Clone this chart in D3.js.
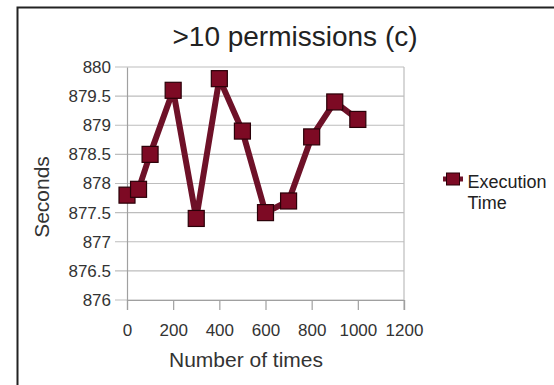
<!DOCTYPE html>
<html>
<head>
<meta charset="utf-8">
<script src="https://cdn.jsdelivr.net/npm/d3@7"></script>
<style>
  html, body { margin: 0; padding: 0; background: #fff; }
  svg { display: block; font-family: "Liberation Sans", Arial, sans-serif; }
</style>
</head>
<body>
<script>
const runs = [0, 50, 100, 200, 300, 400, 500, 600, 700, 800, 900, 1000];
const seconds = [877.8, 877.9, 878.5, 879.6, 877.4, 879.8, 878.9, 877.5, 877.7, 878.8, 879.4, 879.1];
const xTicks = [0, 200, 400, 600, 800, 1000, 1200];
const yTicks = [876, 876.5, 877, 877.5, 878, 878.5, 879, 879.5, 880];

const w = 554, h = 385;
const plotL = 127, plotR = 404, plotT = 67, plotB = 300;
const font = "Liberation Sans, Arial, sans-serif";

const svg = d3.select("body").append("svg")
  .attr("width", w)
  .attr("height", h);

svg.append("rect").attr("width", w).attr("height", h).attr("fill", "#fff");

// frame around the chart (cut at right and bottom)
svg.append("path")
  .attr("d", "M17.5," + h + " V7.5 H" + w)
  .attr("fill", "none")
  .attr("stroke", "#222")
  .attr("stroke-width", 2);

const x = d3.scaleLinear().domain([0, 1200]).range([plotL, plotR]);
const y = d3.scaleLinear().domain([876, 880]).range([plotB, plotT]);

// grid
svg.append("g").selectAll("line").data(yTicks).enter().append("line")
  .attr("x1", plotL - 12).attr("x2", plotR)
  .attr("y1", d => y(d)).attr("y2", d => y(d))
  .attr("stroke", "#bdbdbd").attr("stroke-width", 1.2);

svg.append("line")
  .attr("x1", plotR).attr("x2", plotR).attr("y1", plotT).attr("y2", plotB + 10)
  .attr("stroke", "#bdbdbd").attr("stroke-width", 1.2);

// y axis
const yAxis = d3.axisLeft(y).tickValues(yTicks).tickSize(0).tickPadding(16)
  .tickFormat(d => String(d));
const gy = svg.append("g").attr("transform", "translate(" + plotL + ",0)").call(yAxis);
gy.attr("font-size", 17).attr("font-family", font);
gy.select(".domain").attr("stroke", "#a0a0a0").attr("stroke-width", 1.2);
gy.selectAll("text").attr("fill", "#333");

// x axis
const xAxis = d3.axisBottom(x).tickValues(xTicks).tickSize(10).tickPadding(14)
  .tickFormat(d => String(d));
const gx = svg.append("g").attr("transform", "translate(0," + plotB + ")").call(xAxis);
gx.attr("font-size", 17).attr("font-family", font);
gx.select(".domain").attr("stroke", "#a0a0a0").attr("stroke-width", 1.2);
gx.selectAll(".tick line").attr("stroke", "#a0a0a0").attr("stroke-width", 1.2);
gx.selectAll("text").attr("fill", "#333");

// titles
svg.append("text")
  .attr("x", 295).attr("y", 46)
  .attr("text-anchor", "middle")
  .attr("font-size", 28).attr("fill", "#222")
  .text(">10 permissions (c)");

svg.append("text")
  .attr("x", 246).attr("y", 367)
  .attr("text-anchor", "middle")
  .attr("font-size", 21).attr("fill", "#333")
  .text("Number of times");

svg.append("text")
  .attr("transform", "translate(49,197) rotate(-90)")
  .attr("text-anchor", "middle")
  .attr("font-size", 21).attr("fill", "#333")
  .text("Seconds");

// series
const pts = runs.map((r, i) => [r, seconds[i]]);
const line = d3.line().x(d => x(d[0])).y(d => y(d[1]));

svg.append("path")
  .datum(pts)
  .attr("d", line)
  .attr("fill", "none")
  .attr("stroke", "#6e1128")
  .attr("stroke-width", 6)
  .attr("stroke-linejoin", "round");

const ms = 16;
svg.append("g").selectAll("rect").data(pts).enter().append("rect")
  .attr("x", d => x(d[0]) - ms / 2)
  .attr("y", d => y(d[1]) - ms / 2)
  .attr("width", ms).attr("height", ms)
  .attr("fill", "#7d0a24")
  .attr("stroke", "#2a0008").attr("stroke-width", 1.2);

// legend
const lg = svg.append("g").attr("transform", "translate(453,179)");
lg.append("line").attr("x1", -10).attr("x2", 10).attr("y1", 0).attr("y2", 0)
  .attr("stroke", "#6e1128").attr("stroke-width", 5);
lg.append("rect").attr("x", -6.5).attr("y", -6).attr("width", 13).attr("height", 12)
  .attr("fill", "#7d0a24").attr("stroke", "#2a0008").attr("stroke-width", 1);
lg.append("text").attr("x", 14.5).attr("y", 9).attr("font-size", 18).attr("fill", "#222")
  .text("Execution");
lg.append("text").attr("x", 14.5).attr("y", 30).attr("font-size", 18).attr("fill", "#222")
  .text("Time");
</script>
</body>
</html>
